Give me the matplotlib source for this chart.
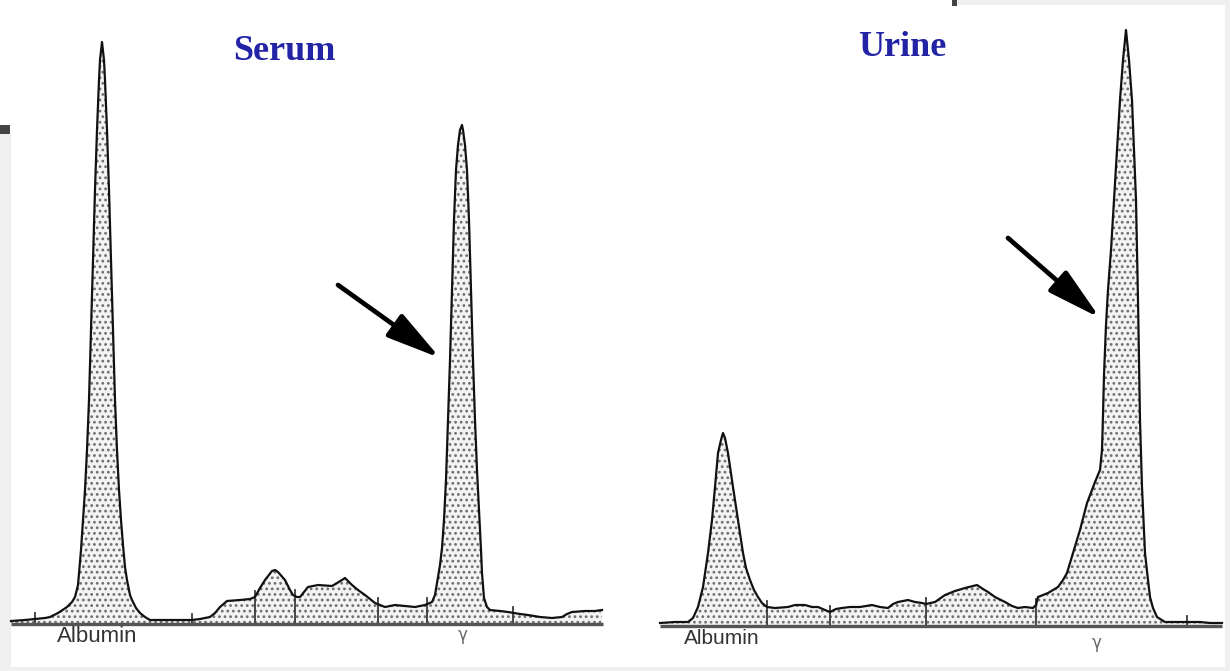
import numpy as np
import matplotlib.pyplot as plt
from matplotlib.patches import Rectangle

# densitometer traces: position along strip (px) and height above baseline (px)
serum_x = [0, 14, 24, 34, 39, 47, 56, 61, 64, 67, 70, 72, 74, 76, 78, 80, 82, 84, 86, 88,
           89, 91, 93, 94, 96, 98, 100, 102, 104, 106, 108, 110, 112, 114, 116, 119, 121,
           125, 129, 134, 139, 159, 181, 189, 199, 204, 209, 216, 229, 239, 244, 249, 254,
           261, 264, 267, 274, 279, 282, 286, 289, 293, 297, 307, 321, 331, 334, 336, 341,
           347, 354, 364, 374, 384, 404, 414, 421, 424, 426, 429, 431, 433, 435, 437, 439,
           441, 443, 445, 447, 449, 451, 452, 454, 456, 458, 460, 462, 464, 466, 468, 470,
           471, 473, 476, 479, 489, 497, 509, 517, 529, 541, 551, 556, 561, 574, 584, 591]
serum_y = [2, 3, 4, 5, 6, 10, 16, 21, 26, 38, 73, 103, 133, 173, 223, 293, 363, 433, 493, 543,
           563, 581, 563, 543, 493, 433, 363, 293, 223, 173, 133, 103, 78, 56, 43, 28, 23,
           15, 10, 6, 3, 3, 3, 4, 6, 10, 16, 22, 23, 24, 26, 35, 43,
           52, 53, 51, 43, 33, 28, 26, 26, 31, 36, 38, 37, 43, 45, 43, 38,
           33, 28, 20, 16, 18, 16, 18, 21, 28, 40, 58, 75, 103, 143, 203, 263,
           333, 403, 453, 478, 493, 498, 493, 478, 453, 403, 333, 263, 203, 153, 113, 73,
           50, 25, 16, 13, 12, 11, 9, 8, 6, 5, 6, 9, 11, 12, 12, 13]
serum_dividers = [24, 181, 244, 284, 367, 416, 502]

urine_x = [0, 15, 28, 33, 38, 43, 48, 52, 55, 58, 61, 63, 65, 68, 73, 78, 83, 86, 90, 94,
           98, 102, 107, 115, 128, 135, 145, 152, 158, 165, 170, 176, 182, 190, 200, 212,
           220, 228, 233, 238, 248, 255, 262, 266, 275, 285, 295, 305, 317, 323, 328, 335,
           345, 352, 358, 365, 373, 376, 378, 383, 388, 398, 403, 407, 413, 420, 427, 432,
           435, 440, 442, 443, 444, 446, 448, 451, 454, 457, 460, 463, 466, 469, 472, 474,
           476, 477, 478, 479, 480, 482, 485, 488, 490, 493, 497, 505, 525, 540, 550, 562]
urine_y = [2, 3, 3, 7, 18, 38, 72, 105, 138, 172, 185, 192, 187, 172, 138, 105, 72, 57, 45, 35,
           28, 22, 18, 17, 18, 20, 20, 18, 18, 15, 13, 16, 17, 18, 18, 20,
           18, 17, 21, 23, 25, 23, 22, 21, 23, 30, 34, 37, 40, 36, 33, 28,
           23, 19, 17, 18, 17, 20, 28, 30, 32, 38, 45, 52, 72, 95, 122, 135,
           143, 155, 175, 210, 250, 300, 335, 375, 425, 475, 525, 565, 595, 565, 525, 475,
           425, 375, 325, 265, 205, 138, 72, 45, 28, 17, 8, 3, 3, 3, 2, 2]
urine_dividers = [107, 170, 266, 376, 527]

serum_len = 592
urine_len = 562

TITLE_BLUE = "#2323a6"
FILL = "#f3f3f3"
DOTS = "#6e6e6e"


def draw_trace(ax, xs, ys, dividers, length):
    xs = np.array(xs, dtype=float)
    ys = np.array(ys, dtype=float)
    ax.fill_between(xs, 0, ys, facecolor=FILL, edgecolor=DOTS, hatch="...",
                    linewidth=0, zorder=1)
    for d in dividers:
        top = np.interp(d, xs, ys) + 6
        ax.plot([d, d], [0, top], color="#3a3a3a", linewidth=1.3, zorder=2)
    ax.plot(xs, ys, color="#111111", linewidth=1.6, zorder=3)
    ax.plot([0, length], [-1, -1], color="#555555", linewidth=2.4,
            solid_capstyle="butt", zorder=4)


def add_arrow(ax, tail, tip):
    ax.annotate("", xy=tip, xytext=tail,
                arrowprops=dict(arrowstyle="-|>,head_length=1.1,head_width=0.28",
                                lw=3.4, color="black", mutation_scale=30,
                                shrinkA=0, shrinkB=0))


plt.rcParams["hatch.linewidth"] = 1.2
fig = plt.figure(figsize=(12.3, 6.71), dpi=100)
fig.patch.set_facecolor("white")

# screenshot frame remnants
W, H = 1230.0, 671.0
def frame_rect(x0, y0, x1, y1, color):
    fig.add_artist(Rectangle((x0 / W, 1 - y1 / H), (x1 - x0) / W, (y1 - y0) / H,
                             transform=fig.transFigure, facecolor=color,
                             edgecolor="none", zorder=0))

frame_rect(0, 133, 11, 671, "#efefef")
frame_rect(0, 125, 10, 134, "#444444")
frame_rect(0, 667, 1230, 671, "#efefef")
frame_rect(957, 0, 1230, 5, "#efefef")
frame_rect(952, 0, 957, 6, "#444444")
frame_rect(1225, 0, 1230, 671, "#efefef")

ax1 = fig.add_axes([0, 0, 0.5, 1])
ax1.set_xlim(-11, 604)
ax1.set_ylim(-48, 623)
ax1.axis("off")

ax2 = fig.add_axes([0.5, 0, 0.5, 1])
ax2.set_xlim(-45, 570)
ax2.set_ylim(-46, 625)
ax2.axis("off")

draw_trace(ax1, serum_x, serum_y, serum_dividers, serum_len)
draw_trace(ax2, urine_x, urine_y, urine_dividers, urine_len)

add_arrow(ax1, (327, 338), (429, 265))
add_arrow(ax2, (348, 387), (440, 307))

ax1.text(273, 572, "Serum", color=TITLE_BLUE, fontsize=26, fontweight="bold",
         family="Liberation Serif", ha="center", va="center")
ax2.text(242, 577, "Urine", color=TITLE_BLUE, fontsize=26, fontweight="bold",
         family="Liberation Serif", ha="center", va="center")

ax1.text(86, -14, "Albumin", color="#333333", fontsize=16, family="Liberation Sans",
         ha="center", va="center")
ax2.text(62, -14, "Albumin", color="#333333", fontsize=15, family="Liberation Sans",
         ha="center", va="center")
ax1.text(452, -12, "γ", color="#666666", fontsize=12, family="DejaVu Sans",
         ha="center", va="center")
ax2.text(437, -18, "γ", color="#666666", fontsize=12, family="DejaVu Sans",
         ha="center", va="center")

fig.savefig("out.png", dpi=100)
